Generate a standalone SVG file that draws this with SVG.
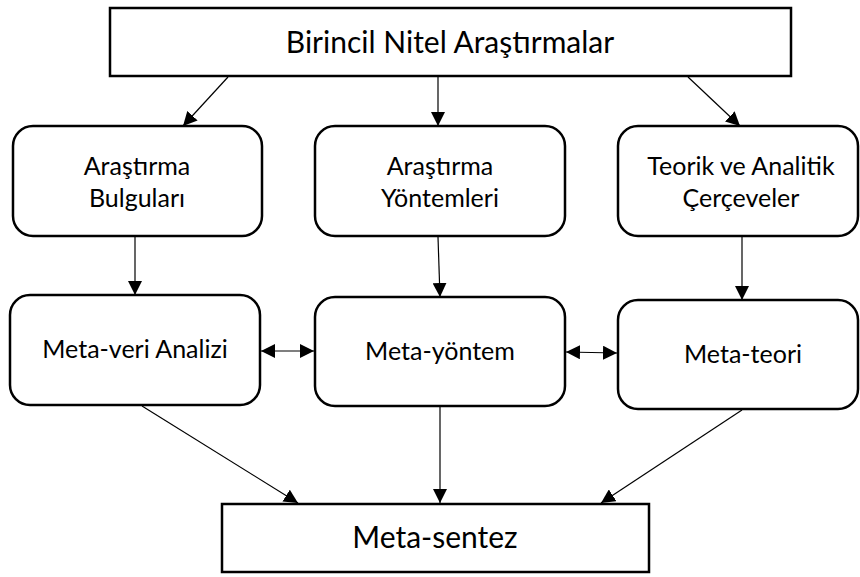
<svg xmlns="http://www.w3.org/2000/svg" width="860" height="577" viewBox="0 0 860 577">
<style>
.box{fill:#fff;stroke:#000;stroke-width:2.5}
.t{font-family:Lato,"Open Sans","DejaVu Sans",sans-serif;fill:#000;text-anchor:middle}
.big{font-size:30px}
.mid{font-size:25px}
.c{stroke:#000;stroke-width:1.2;fill:none}
</style>
<defs>
<marker id="ah" viewBox="0 0 14 14" refX="14" refY="7" markerWidth="14" markerHeight="14" markerUnits="userSpaceOnUse" orient="auto-start-reverse">
<path d="M0,0 L14,7 L0,14 Z" fill="#000"/>
</marker>
</defs>
<rect width="860" height="577" fill="#fff"/>
<g id="n-birincil"><rect class="box" x="110" y="8" width="681" height="68"/><text class="t big" x="450" y="53">Birincil Nitel Araştırmalar</text></g>
<g id="n-bulgular"><rect class="box" x="13" y="126" width="249" height="110" rx="20"/><text class="t mid" x="137" y="175">Araştırma</text><text class="t mid" x="137" y="207">Bulguları</text></g>
<g id="n-yontemler"><rect class="box" x="315" y="126" width="250" height="110" rx="20"/><text class="t mid" x="440" y="175">Araştırma</text><text class="t mid" x="440" y="207">Yöntemleri</text></g>
<g id="n-teorik"><rect class="box" x="618" y="126" width="240" height="110" rx="20"/><text class="t mid" x="741" y="175">Teorik ve Analitik</text><text class="t mid" x="741" y="207">Çerçeveler</text></g>
<g id="n-metaveri"><rect class="box" x="10" y="295" width="250" height="110" rx="20"/><text class="t mid" x="135" y="358">Meta-veri Analizi</text></g>
<g id="n-metayontem"><rect class="box" x="315" y="297" width="250" height="109" rx="20"/><text class="t mid" x="440" y="360">Meta-yöntem</text></g>
<g id="n-metateori"><rect class="box" x="618" y="300" width="240" height="109" rx="20"/><text class="t mid" x="743" y="363">Meta-teori</text></g>
<g id="n-metasentez"><rect class="box" x="222" y="504" width="427" height="68"/><text class="t big" x="435" y="548">Meta-sentez</text></g>
<g id="connectors">
<line class="c" x1="228" y1="77" x2="183" y2="126" marker-end="url(#ah)"/>
<line class="c" x1="438" y1="77" x2="438" y2="126" marker-end="url(#ah)"/>
<line class="c" x1="688" y1="77" x2="740" y2="126" marker-end="url(#ah)"/>
<line class="c" x1="135" y1="237" x2="135" y2="295" marker-end="url(#ah)"/>
<line class="c" x1="438" y1="237" x2="440" y2="297" marker-end="url(#ah)"/>
<line class="c" x1="742" y1="237" x2="742" y2="300" marker-end="url(#ah)"/>
<line class="c" x1="261" y1="351" x2="314" y2="351" marker-start="url(#ah)" marker-end="url(#ah)"/>
<line class="c" x1="566" y1="352" x2="617" y2="353" marker-start="url(#ah)" marker-end="url(#ah)"/>
<line class="c" x1="142" y1="406" x2="298" y2="503" marker-end="url(#ah)"/>
<line class="c" x1="440" y1="407" x2="440" y2="503" marker-end="url(#ah)"/>
<line class="c" x1="742" y1="410" x2="601" y2="503" marker-end="url(#ah)"/>
</g>
</svg>
